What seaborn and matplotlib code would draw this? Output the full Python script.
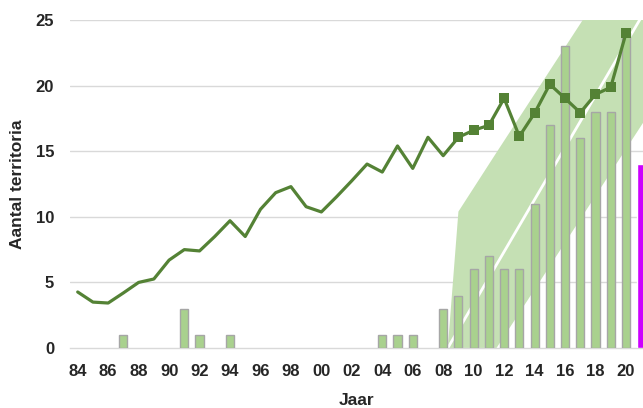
import matplotlib
matplotlib.use("Agg")
import matplotlib.pyplot as plt
import numpy as np
import pandas as pd
import seaborn as sns

# Territory counts: line = total, bars = subset, purple bar = latest year
line_years = list(range(1984, 2021))
line_values = [4.27, 3.5, 3.43, 4.2, 5.0, 5.26, 6.7, 7.5, 7.4, 8.5, 9.7, 8.5,
               10.57, 11.84, 12.3, 10.77, 10.37, 11.53, 12.75, 14.02, 13.41,
               15.4, 13.69, 16.06, 14.66,
               16.06, 16.6, 16.97, 19.03, 16.13, 17.9, 20.1, 19.03, 17.94,
               19.33, 19.87, 23.98]

bar_years = [1987, 1991, 1992, 1994, 2004, 2005, 2006, 2008, 2009, 2010,
             2011, 2012, 2013, 2014, 2015, 2016, 2017, 2018, 2019, 2020]
bar_counts = [1, 3, 1, 1, 1, 1, 1, 3, 4, 6, 7, 6, 6, 11, 17, 23, 16, 18, 18, 24]

latest_year = [2021]
latest_count = [14]

# trend band (corners)
band_x = [2008.3, 2009.0, 2011.5, 2021.2]
band_lo = [0, 0, 0, 17.3]
band_hi = [0, 10.4, 14.9, 32.2]
trend_x = [2008.3, 2021.2]
trend_y = [0, 25.6]

tick_years = list(range(1984, 2021, 2))
tick_labels = [f"{y % 100:02d}" for y in tick_years]

sns.set_theme(style="white")
plt.rcParams["font.family"] = ["Liberation Sans", "DejaVu Sans"]

fig = plt.figure(figsize=(6.43, 4.08), dpi=100)
ax = fig.add_axes([0.109, 0.147, 0.891, 0.804])

for v in [5, 10, 15, 20, 25]:
    ax.axhline(v, color="#d9d9d9", linewidth=1, zorder=0)

ax.fill_between(band_x, band_lo, band_hi, color="#c5e0b4", linewidth=0, zorder=1)
sns.lineplot(x=trend_x, y=trend_y, color="white", linewidth=2, ax=ax, zorder=2)

bars = pd.DataFrame({"jaar": bar_years, "aantal": bar_counts})
sns.barplot(data=bars, x="jaar", y="aantal", native_scale=True, width=0.53,
            color="#a9d18e", saturation=1, edgecolor="#a6a6a6", linewidth=1,
            ax=ax, zorder=3)
latest = pd.DataFrame({"jaar": latest_year, "aantal": latest_count})
ax.bar(latest["jaar"], latest["aantal"], width=0.53, color="#cc00ff",
       zorder=3)

line = pd.DataFrame({"jaar": line_years, "aantal": line_values})
sns.lineplot(data=line, x="jaar", y="aantal", color="#548235", linewidth=2.3,
             marker="s", markersize=7, markeredgewidth=0,
             markevery=list(range(25, len(line_years))), ax=ax, zorder=4)

ax.set_xlim(1983.5, 2021.12)
ax.set_ylim(0, 25)
ax.set_yticks([0, 5, 10, 15, 20, 25])
ax.set_xticks(tick_years)
ax.set_xticklabels(tick_labels)
ax.tick_params(axis="both", labelsize=12, length=0, pad=11.5)
for lab in ax.get_xticklabels() + ax.get_yticklabels():
    lab.set_fontweight("bold")

for side in ["top", "right", "left"]:
    ax.spines[side].set_visible(False)
ax.spines["bottom"].set_color("#d9d9d9")
ax.spines["bottom"].set_linewidth(1)

ax.set_xlabel("Jaar", fontsize=12.5, fontweight="bold", labelpad=10)
ax.set_ylabel("Aantal territoria", fontsize=12.5, fontweight="bold", labelpad=7.5)

fig.savefig("out.png", dpi=100)
